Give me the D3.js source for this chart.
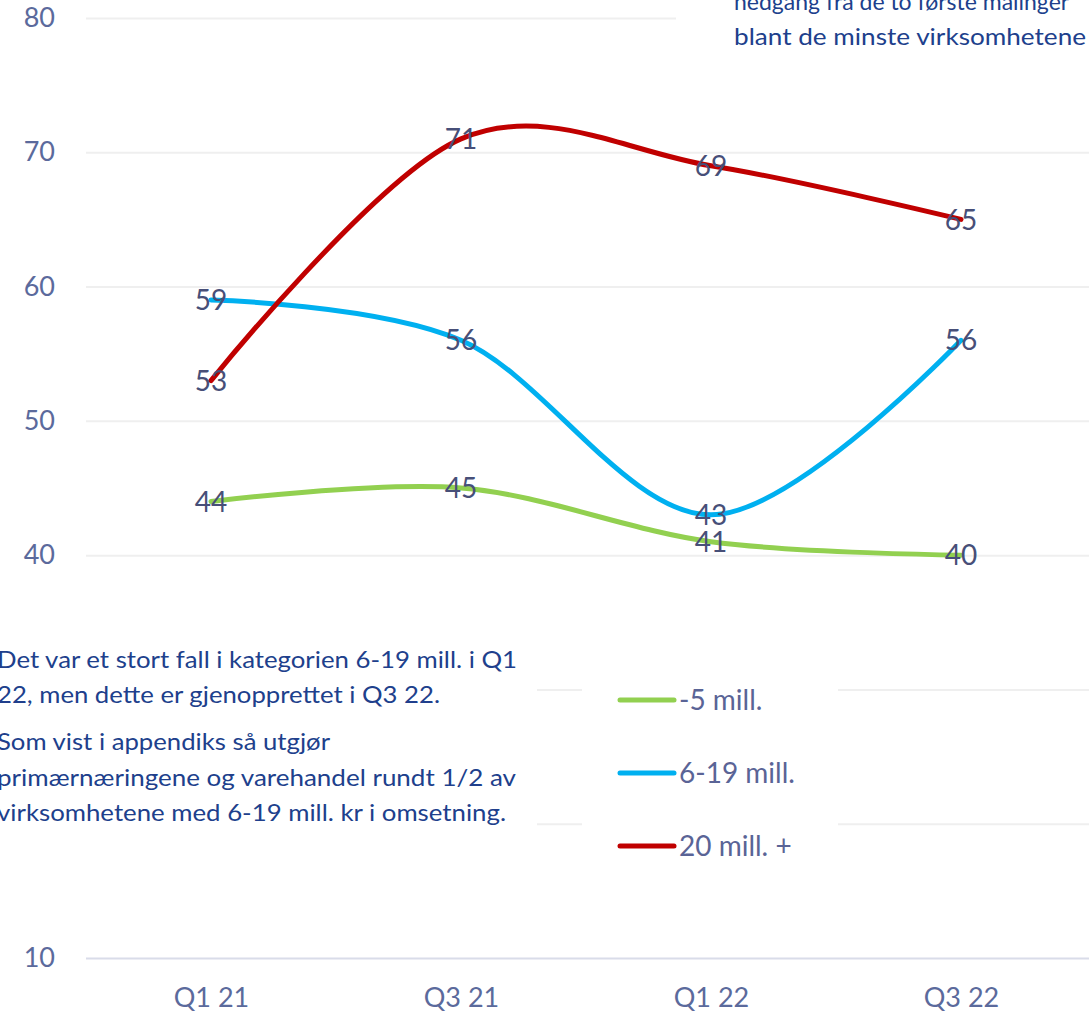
<!DOCTYPE html>
<html><head><meta charset="utf-8">
<script src="https://cdn.jsdelivr.net/npm/d3@7/dist/d3.min.js"></script>
<style>html,body{margin:0;padding:0;background:#fff;overflow:hidden}</style>
</head><body>
<svg id="chart" width="1089" height="1016"></svg>
<script>
const categories = ["Q1 21", "Q3 21", "Q1 22", "Q3 22"];
const seriesNames = ["-5 mill.", "6-19 mill.", "20 mill. +"];
const small = [44, 45, 41, 40];
const medium = [59, 56, 43, 56];
const large = [53, 71, 69, 65];
const yTicks = [10, 20, 30, 40, 50, 60, 70, 80];
const yTickLabels = ["10", "", "", "40", "50", "60", "70", "80"];
const noteLines = [
  "Det var et stort fall i kategorien 6-19 mill. i Q1",
  "22, men dette er gjenopprettet i Q3 22.",
  "Som vist i appendiks så utgjør",
  "primærnæringene og varehandel rundt 1/2 av",
  "virksomhetene med 6-19 mill. kr i omsetning."
];
const topNoteLines = [
  "nedgang fra de to første målinger",
  "blant de minste virksomhetene"
];
const colors = ["#92d050", "#00b0f0", "#c00000"];
const series = [small, medium, large];

const svg = d3.select("#chart");
const font = "Lato, 'Open Sans', sans-serif";
const x = d3.scalePoint().domain(categories).range([211, 961]);
const y = d3.scaleLinear().domain([10, 80]).range([958, 18]);

// gridlines
const yAxis = d3.axisLeft(y).tickValues(yTicks).tickSize(-1003)
  .tickFormat((d, i) => yTickLabels[i]);
const gy = svg.append("g").attr("transform", "translate(86,0)").call(yAxis);
gy.select(".domain").remove();
gy.selectAll(".tick line").attr("stroke", d => d === 10 ? "#d9dce9" : "#efefef").attr("stroke-width", 2);
gy.selectAll(".tick text").attr("x", -31).attr("fill", "#5b6a9c")
  .style("font-family", font).style("font-size", "27px");

// x axis labels
const xAxis = d3.axisBottom(x).tickSize(0);
const gx = svg.append("g").attr("transform", "translate(0,958)").call(xAxis);
gx.select(".domain").remove();
gx.selectAll(".tick text").attr("y", 30).attr("dy", "0.71em").attr("fill", "#5b6a9c")
  .style("font-family", font).style("font-size", "27px");

// white boxes covering grid
svg.append("rect").attr("x", 0).attr("y", 630).attr("width", 537).attr("height", 210).attr("fill", "#fff");
svg.append("rect").attr("x", 582).attr("y", 660).attr("width", 256).attr("height", 210).attr("fill", "#fff");
svg.append("rect").attr("x", 676).attr("y", 0).attr("width", 413).attr("height", 62).attr("fill", "#fff");

// lines
const line = d3.line().x((d, i) => x(categories[i])).y(d => y(d)).curve(d3.curveCardinal.tension(0));
series.forEach((s, k) => {
  svg.append("path").datum(s).attr("d", line).attr("fill", "none")
    .attr("stroke", colors[k]).attr("stroke-width", 5).attr("stroke-linecap", "round");
});

// data labels
series.forEach((s, k) => {
  svg.append("g").selectAll("text").data(s).join("text")
    .attr("x", (d, i) => x(categories[i])).attr("y", d => y(d)).attr("dy", "0.36em")
    .attr("text-anchor", "middle").attr("fill", "#474f78")
    .style("font-family", font).style("font-size", "28px").text(d => d);
});

// legend
const legY = [700, 773, 846];
seriesNames.forEach((n, k) => {
  svg.append("line").attr("x1", 620).attr("x2", 674).attr("y1", legY[k]).attr("y2", legY[k])
    .attr("stroke", colors[k]).attr("stroke-width", 5).attr("stroke-linecap", "round");
  svg.append("text").attr("x", 679).attr("y", legY[k]).attr("dy", "0.36em").attr("fill", "#5a6496")
    .style("font-family", font).style("font-size", "28px").text(n);
});

// annotation text
const noteBase = [668, 703, 750, 786, 821];
const noteLen = [520, 443, 333, 519, 509];
noteLines.forEach((t, i) => {
  svg.append("text").attr("x", -3).attr("y", noteBase[i]).attr("fill", "#203f8c")
    .attr("textLength", noteLen[i]).attr("lengthAdjust", "spacingAndGlyphs")
    .style("font-family", font).style("font-size", "23px").text(t);
});
const topBase = [10, 45];
const topLen = [null, 352];
topNoteLines.forEach((t, i) => {
  const tx = svg.append("text").attr("x", 734).attr("y", topBase[i]).attr("fill", "#203f8c")
    .style("font-family", font).style("font-size", "23px").text(t);
  if (topLen[i]) tx.attr("textLength", topLen[i]).attr("lengthAdjust", "spacingAndGlyphs");
});
</script>
</body></html>
